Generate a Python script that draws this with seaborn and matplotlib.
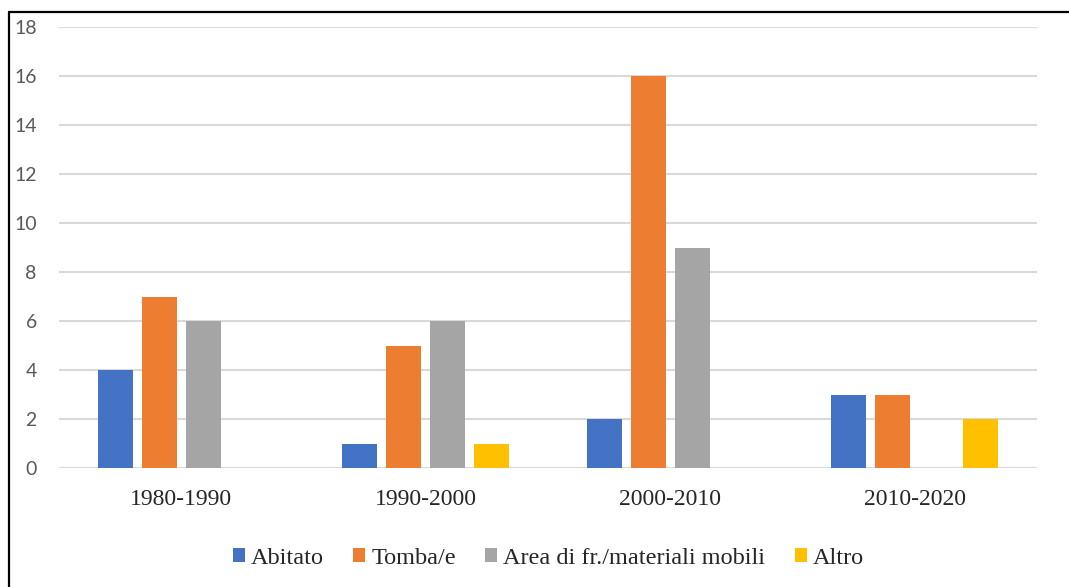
import pandas as pd
import matplotlib.pyplot as plt
import seaborn as sns
from matplotlib.lines import Line2D

# Dati
decenni = ["1980-1990", "1990-2000", "2000-2010", "2010-2020"]
serie = ["Abitato", "Tomba/e", "Area di fr./materiali mobili", "Altro"]
abitato = [4, 1, 2, 3]
tombe = [7, 5, 16, 3]
area = [6, 6, 9, 0]
altro = [0, 1, 0, 2]
colori = ["#4472C4", "#ED7D31", "#A5A5A5", "#FFC000"]

rows = []
for nome, valori in zip(serie, [abitato, tombe, area, altro]):
    for d, v in zip(decenni, valori):
        rows.append({"decennio": d, "serie": nome, "valore": v})
df = pd.DataFrame(rows)

sns.set_style("white")

fig = plt.figure(figsize=(10.69, 5.87), dpi=100)
ax = fig.add_axes([0.0552, 0.2027, 0.9148, 0.7513])

sns.barplot(data=df, x="decennio", y="valore", hue="serie", hue_order=serie,
            palette=colori, width=0.72, gap=0.2, ax=ax, linewidth=0, saturation=1)

ax.set_ylim(0, 18)
ax.set_yticks(range(0, 19, 2))
ax.set_xlabel("")
ax.set_ylabel("")
ax.yaxis.grid(True, color="#d9d9d9", linewidth=1.5)
ax.set_axisbelow(True)
for s in ax.spines.values():
    s.set_visible(False)
ax.tick_params(axis="y", length=0, pad=16, labelsize=14, labelcolor="#595959")
ax.tick_params(axis="x", length=0, pad=15, labelsize=17)
for t in ax.get_yticklabels():
    t.set_fontfamily("Lato")
for t in ax.get_xticklabels():
    t.set_fontfamily("Liberation Serif")

handles, labels = ax.get_legend_handles_labels()
ax.legend(handles, labels, loc="center", bbox_to_anchor=(0.513, 0.049),
          bbox_transform=fig.transFigure, ncol=4, frameon=False,
          handlelength=0.5, handleheight=0.5, handletextpad=0.25,
          columnspacing=1.2, prop={"family": "Liberation Serif", "size": 17.5})

# cornice
fig.add_artist(Line2D([8.5 / 1069, 8.5 / 1069], [0, 1 - 11.5 / 587], color="black", linewidth=1.6))
fig.add_artist(Line2D([8.5 / 1069, 1], [1 - 11.5 / 587, 1 - 11.5 / 587], color="black", linewidth=1.6))

fig.savefig("out.png", dpi=100)
